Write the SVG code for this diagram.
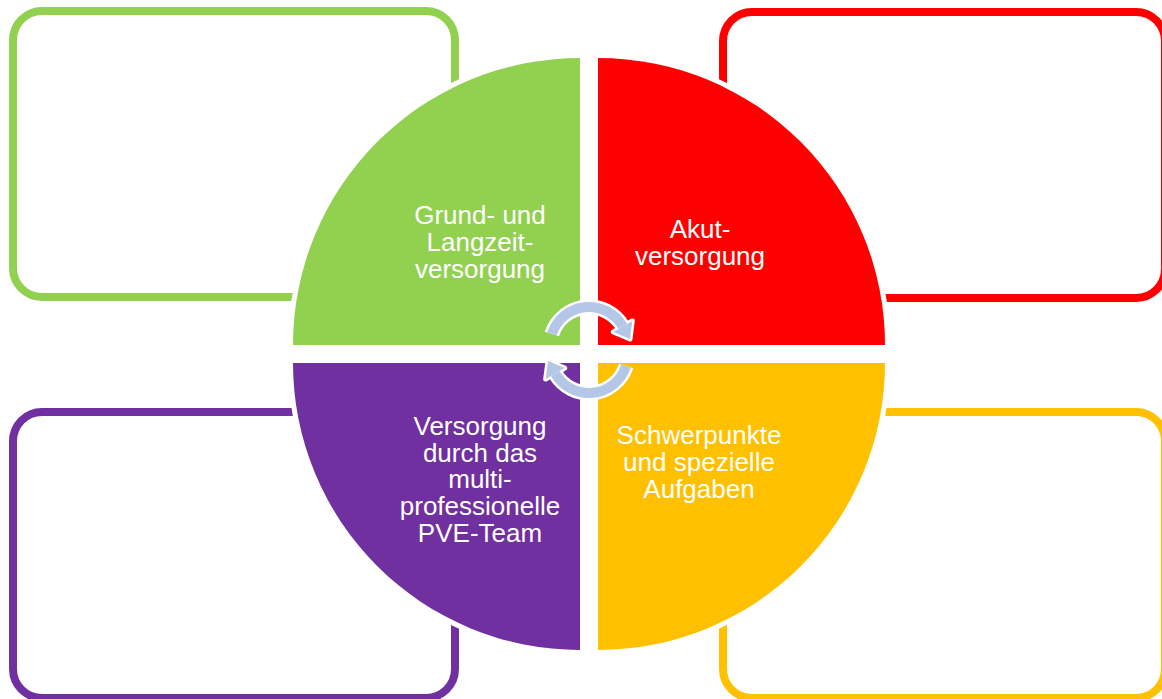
<svg xmlns="http://www.w3.org/2000/svg" xmlns:xlink="http://www.w3.org/1999/xlink" width="1162" height="699" viewBox="0 0 1162 699">
  <style>
    .box { fill: #ffffff; stroke-width: 8; }
    .quad { stroke: #ffffff; stroke-width: 10; paint-order: stroke; }
    .lbl { font-family: "Liberation Sans", Arial, sans-serif; font-size: 26px; fill: #ffffff; text-anchor: middle; }
  </style>
  <defs>
    <g id="cyc">
      <path d="M551.9,334 A39,39 0 0 1 622.8,326.5" fill="none" stroke="#ffffff" stroke-width="15"/>
      <polygon points="632.3,321 613.3,332 630,339" fill="#ffffff" stroke="#ffffff" stroke-width="5" stroke-linejoin="round"/>
      <path d="M551.9,334 A39,39 0 0 1 622.8,326.5" fill="none" stroke="#B4C7E7" stroke-width="10"/>
      <polygon points="632.3,321 613.3,332 630,339" fill="#B4C7E7"/>
    </g>
  </defs>
  <rect width="1162" height="699" fill="#ffffff"/>

  <g id="box-green"><rect class="box" x="13" y="11" width="442" height="286" rx="29" stroke="#92D050"/></g>
  <g id="box-red"><rect class="box" x="723" y="12" width="442" height="286" rx="29" stroke="#FF0000"/></g>
  <g id="box-purple"><rect class="box" x="13" y="412" width="442" height="286" rx="29" stroke="#7030A0"/></g>
  <g id="box-yellow"><rect class="box" x="723" y="412" width="442" height="286" rx="29" stroke="#FFC000"/></g>

  <g id="q-green">
    <path class="quad" d="M580,345 L293,345 A287,287 0 0 1 580,58 Z" fill="#92D050"/>
    <text class="lbl"><tspan x="480" y="224">Grund- und</tspan><tspan x="480" y="251">Langzeit-</tspan><tspan x="480" y="278">versorgung</tspan></text>
  </g>
  <g id="q-red">
    <path class="quad" d="M598,345 L598,58 A287,287 0 0 1 885,345 Z" fill="#FF0000"/>
    <text class="lbl"><tspan x="700" y="238">Akut-</tspan><tspan x="700" y="265">versorgung</tspan></text>
  </g>
  <g id="q-yellow">
    <path class="quad" d="M598,363 L885,363 A287,287 0 0 1 598,650 Z" fill="#FFC000"/>
    <text class="lbl"><tspan x="699" y="444">Schwerpunkte</tspan><tspan x="699" y="471">und spezielle</tspan><tspan x="699" y="498">Aufgaben</tspan></text>
  </g>
  <g id="q-purple">
    <path class="quad" d="M580,363 L580,650 A287,287 0 0 1 293,363 Z" fill="#7030A0"/>
    <text class="lbl"><tspan x="480" y="435">Versorgung</tspan><tspan x="480" y="462">durch das</tspan><tspan x="480" y="488">multi-</tspan><tspan x="480" y="515">professionelle</tspan><tspan x="480" y="542">PVE-Team</tspan></text>
  </g>

  <g id="connectors">
    <use xlink:href="#cyc"/>
    <use xlink:href="#cyc" transform="rotate(180 589 350)"/>
  </g>
</svg>
